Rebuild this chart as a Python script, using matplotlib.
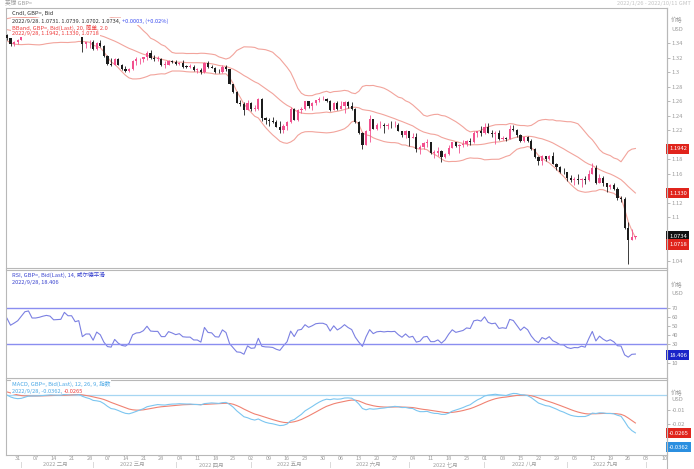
import matplotlib
matplotlib.use("Agg")
import matplotlib.pyplot as plt
import matplotlib.transforms as mtransforms
from matplotlib.lines import Line2D
import numpy as np
import pandas as pd

plt.rcParams['font.family'] = ['Noto Sans CJK SC', 'DejaVu Sans']

# GBP= daily bid, every weekday from 2022-01-03 to 2022-09-28
closes = [
    # Jan
    1.3483, 1.3530, 1.3543, 1.3540, 1.3590, 1.3592, 1.3641, 1.3711, 1.3715, 1.3676,
    1.3665, 1.3612, 1.3620, 1.3605, 1.3550, 1.3478, 1.3506, 1.3465, 1.3390, 1.3416, 1.3446,
    # Feb
    1.3510, 1.3586, 1.3600, 1.3530, 1.3530, 1.3540, 1.3555, 1.3566, 1.3560, 1.3530,
    1.3533, 1.3535, 1.3615, 1.3590, 1.3590, 1.3545, 1.3555, 1.3385, 1.3410, 1.3410,
    # Mar
    1.3320, 1.3400, 1.3360, 1.3225, 1.3115, 1.3100, 1.3185, 1.3095, 1.3035, 1.3015,
    1.3045, 1.3150, 1.3175, 1.3180, 1.3205, 1.3265, 1.3190, 1.3185, 1.3185, 1.3100,
    1.3100, 1.3155, 1.3135,
    # Apr
    1.3110, 1.3120, 1.3075, 1.3070, 1.3070, 1.3030, 1.3030, 1.3000, 1.3130, 1.3065,
    1.3060, 1.3005, 1.3000, 1.3070, 1.3035, 1.2835, 1.2720, 1.2575, 1.2560, 1.2475, 1.2575,
    # May
    1.2490, 1.2495, 1.2625, 1.2360, 1.2335, 1.2330, 1.2315, 1.2245, 1.2200, 1.2260,
    1.2315, 1.2490, 1.2345, 1.2475, 1.2490, 1.2595, 1.2535, 1.2570, 1.2615, 1.2625,
    1.2625, 1.2600,
    # Jun
    1.2480, 1.2575, 1.2490, 1.2530, 1.2590, 1.2535, 1.2495, 1.2315, 1.2160, 1.1995,
    1.2180, 1.2350, 1.2220, 1.2265, 1.2275, 1.2260, 1.2270, 1.2265, 1.2270, 1.2190,
    1.2125, 1.2180,
    # Jul
    1.2095, 1.2110, 1.1945, 1.1960, 1.2025, 1.2035, 1.1890, 1.1890, 1.1915, 1.1825,
    1.1870, 1.1955, 1.2030, 1.1975, 1.1990, 1.2005, 1.2045, 1.2035, 1.2165, 1.2180, 1.2165,
    # Aug
    1.2245, 1.2165, 1.2145, 1.2155, 1.2075, 1.2085, 1.2075, 1.2215, 1.2200, 1.2130,
    1.2050, 1.2100, 1.2055, 1.1935, 1.1830, 1.1770, 1.1840, 1.1800, 1.1835, 1.1735,
    1.1690, 1.1625, 1.1620,
    # Sep
    1.1540, 1.1510, 1.1520, 1.1515, 1.1530, 1.1505, 1.1590, 1.1680, 1.1475, 1.1545,
    1.1470, 1.1415, 1.1435, 1.1380, 1.1265, 1.1255, 1.0855, 1.0685, 1.0730, 1.0734,
]
highs = [
    1.3533, 1.3555, 1.3600, 1.3580, 1.3600, 1.3610, 1.3650, 1.3720, 1.3750, 1.3730,
    1.3700, 1.3670, 1.3645, 1.3650, 1.3610, 1.3560, 1.3520, 1.3530, 1.3470, 1.3430, 1.3450,
    1.3530, 1.3590, 1.3640, 1.3620, 1.3560, 1.3570, 1.3580, 1.3640, 1.3590, 1.3570,
    1.3550, 1.3580, 1.3640, 1.3620, 1.3620, 1.3620, 1.3600, 1.3560, 1.3420, 1.3440,
    1.3440, 1.3410, 1.3440, 1.3370, 1.3240, 1.3190, 1.3200, 1.3190, 1.3110, 1.3080,
    1.3060, 1.3160, 1.3210, 1.3190, 1.3210, 1.3290, 1.3300, 1.3230, 1.3220, 1.3190,
    1.3150, 1.3170, 1.3170,
    1.3160, 1.3140, 1.3160, 1.3100, 1.3110, 1.3090, 1.3050, 1.3060, 1.3140, 1.3150,
    1.3090, 1.3070, 1.3040, 1.3090, 1.3090, 1.3040, 1.2840, 1.2740, 1.2610, 1.2590, 1.2610,
    1.2580, 1.2540, 1.2640, 1.2640, 1.2380, 1.2360, 1.2380, 1.2340, 1.2320, 1.2280,
    1.2330, 1.2520, 1.2500, 1.2490, 1.2520, 1.2600, 1.2600, 1.2580, 1.2620, 1.2660,
    1.2670, 1.2640,
    1.2610, 1.2580, 1.2600, 1.2600, 1.2600, 1.2600, 1.2590, 1.2500, 1.2330, 1.2170,
    1.2200, 1.2410, 1.2350, 1.2290, 1.2320, 1.2290, 1.2290, 1.2320, 1.2330, 1.2300,
    1.2190, 1.2200,
    1.2180, 1.2160, 1.2160, 1.1990, 1.2040, 1.2070, 1.2000, 1.1920, 1.1970, 1.1920,
    1.1890, 1.1990, 1.2040, 1.2040, 1.2010, 1.2060, 1.2060, 1.2090, 1.2180, 1.2190, 1.2250,
    1.2290, 1.2290, 1.2200, 1.2180, 1.2200, 1.2120, 1.2110, 1.2275, 1.2270, 1.2210,
    1.2140, 1.2110, 1.2120, 1.2080, 1.1950, 1.1840, 1.1850, 1.1840, 1.1860, 1.1900,
    1.1740, 1.1700, 1.1680,
    1.1620, 1.1580, 1.1550, 1.1590, 1.1540, 1.1560, 1.1650, 1.1740, 1.1720, 1.1590,
    1.1560, 1.1450, 1.1450, 1.1470, 1.1420, 1.1290, 1.1270, 1.0930, 1.0840, 1.0739,
]
lows = [
    1.3460, 1.3440, 1.3520, 1.3490, 1.3520, 1.3530, 1.3570, 1.3630, 1.3690, 1.3660,
    1.3640, 1.3590, 1.3580, 1.3590, 1.3540, 1.3440, 1.3450, 1.3440, 1.3360, 1.3360, 1.3390,
    1.3440, 1.3500, 1.3560, 1.3500, 1.3490, 1.3500, 1.3530, 1.3520, 1.3520, 1.3500,
    1.3490, 1.3510, 1.3550, 1.3580, 1.3560, 1.3530, 1.3530, 1.3275, 1.3330, 1.3330,
    1.3300, 1.3300, 1.3340, 1.3210, 1.3090, 1.3080, 1.3100, 1.3090, 1.3030, 1.3000,
    1.3000, 1.3030, 1.3090, 1.3110, 1.3140, 1.3160, 1.3180, 1.3150, 1.3150, 1.3080,
    1.3050, 1.3090, 1.3120,
    1.3090, 1.3090, 1.3060, 1.3050, 1.3050, 1.3010, 1.2990, 1.2975, 1.2990, 1.3060,
    1.3050, 1.2990, 1.2980, 1.2990, 1.3010, 1.2830, 1.2710, 1.2570, 1.2530, 1.2410, 1.2470,
    1.2460, 1.2460, 1.2480, 1.2330, 1.2280, 1.2260, 1.2300, 1.2240, 1.2160, 1.2160,
    1.2200, 1.2300, 1.2340, 1.2330, 1.2440, 1.2480, 1.2500, 1.2480, 1.2540, 1.2590,
    1.2610, 1.2580,
    1.2460, 1.2470, 1.2480, 1.2490, 1.2430, 1.2510, 1.2480, 1.2300, 1.2150, 1.1935,
    1.1990, 1.2040, 1.2210, 1.2200, 1.2230, 1.2160, 1.2220, 1.2230, 1.2240, 1.2180,
    1.2110, 1.2090,
    1.1975, 1.2090, 1.1900, 1.1875, 1.1940, 1.1970, 1.1870, 1.1810, 1.1840, 1.1760,
    1.1810, 1.1850, 1.1950, 1.1960, 1.1890, 1.1960, 1.1980, 1.2000, 1.2020, 1.2100, 1.2120,
    1.2150, 1.2160, 1.2110, 1.2005, 1.2060, 1.2060, 1.2050, 1.2070, 1.2190, 1.2110,
    1.2030, 1.2030, 1.2040, 1.1930, 1.1820, 1.1720, 1.1720, 1.1770, 1.1780, 1.1730,
    1.1650, 1.1610, 1.1600,
    1.1500, 1.1490, 1.1440, 1.1460, 1.1410, 1.1460, 1.1500, 1.1590, 1.1460, 1.1470,
    1.1430, 1.1350, 1.1380, 1.1370, 1.1240, 1.1210, 1.0840, 1.0350, 1.0680, 1.0702,
]
last_open = 1.0731
first_open = 1.3530

month_names = ['一月', '二月', '三月', '四月', '五月', '六月', '七月', '八月', '九月', '十月']

# right-axis ticks that are not hidden behind the value tags
price_ticks = [1.04, 1.1, 1.12, 1.16, 1.18, 1.22, 1.24, 1.26, 1.28, 1.3, 1.32, 1.34]
rsi_ticks = [10, 30, 40, 50, 60, 70]
macd_ticks = [-0.01, -0.02]

# header / legend strings and the right-side value tags
price_info = "2022/9/28, 1.0731, 1.0739, 1.0702, 1.0734, "
price_change = "+0.0003, (+0.02%)"
bb_info = "2022/9/28, 1.1942, 1.1330, 1.0718"
rsi_info = "2022/9/28, 18.406"
macd_info = "2022/9/28, -0.0362, "
signal_info = "-0.0265"

UP = '#f2508e'
DOWN = '#1c1c1c'
BAND = '#f2a49c'
RSI_C = '#7b80e2'
MACD_C = '#7cc6f0'
SIG_C = '#f08272'
GRAY = '#9c9c9c'
FRAME = '#b8b8b8'

dates = pd.bdate_range('2022-01-03', '2022-09-28')
assert len(dates) == len(closes) == len(highs) == len(lows)
axis_days = pd.bdate_range('2022-01-03', '2022-10-11')
x = np.arange(len(closes))
start = list(axis_days).index(pd.Timestamp('2022-01-26'))

c = pd.Series(closes)
o = c.shift(1)
o.iloc[0] = first_open
o.iloc[-1] = last_open
o = o.values
cv = c.values
hi = np.maximum(np.array(highs), np.maximum(o, cv))
lo = np.minimum(np.array(lows), np.minimum(o, cv))

# Bollinger 20, 2.0
mid = c.rolling(20, min_periods=1).mean()
sd = c.rolling(20, min_periods=1).std(ddof=0)
upper, lower = mid + 2 * sd, mid - 2 * sd

# RSI 14, Wilder
d = c.diff()
gain = d.clip(lower=0).ewm(alpha=1 / 14, adjust=False).mean()
loss = (-d.clip(upper=0)).ewm(alpha=1 / 14, adjust=False).mean()
rsi = 100 - 100 / (1 + gain / loss)

# MACD 12, 26, 9
macd = c.ewm(span=12, adjust=False).mean() - c.ewm(span=26, adjust=False).mean()
signal = macd.ewm(span=9, adjust=False).mean()

W, H = 694, 469
fig = plt.figure(figsize=(W / 100, H / 100), dpi=100)


def box(l, t, r, b):
    return [l / W, 1 - b / H, (r - l) / W, (b - t) / H]


def px(xp, yp):
    return xp / W, 1 - yp / H


ax_p = fig.add_axes(box(5.5, 8, 667, 268))
ax_r = fig.add_axes(box(5.5, 269.5, 667, 378), sharex=ax_p)
ax_m = fig.add_axes(box(5.5, 379.5, 667, 455), sharex=ax_p)

for ax in (ax_p, ax_r, ax_m):
    for s in ax.spines.values():
        s.set_color(FRAME)
        s.set_linewidth(0.8)
    ax.yaxis.tick_right()
    ax.tick_params(axis='y', labelsize=4.2, colors=GRAY, length=2, width=0.5, pad=1.5)
ax_p.tick_params(axis='x', length=0, labelbottom=False)
ax_r.tick_params(axis='x', length=0, labelbottom=False)

# price panel
ax_p.plot(x, upper, color=BAND, lw=0.8, zorder=1)
ax_p.plot(x, mid, color=BAND, lw=0.8, zorder=1)
ax_p.plot(x, lower, color=BAND, lw=0.8, zorder=1)
up = cv >= o
cols = np.where(up, UP, DOWN)
ax_p.vlines(x, lo, hi, colors=cols, lw=0.6, zorder=2)
body = np.maximum(np.abs(cv - o), 0.0007)
ax_p.bar(x, body, bottom=np.minimum(o, cv), width=0.62, color=cols, linewidth=0, zorder=3)
ax_p.set_xlim(start - 0.4, start + 183.8)
ax_p.set_ylim(1.0297, 1.3883)
ax_p.set_yticks(price_ticks)
ax_p.yaxis.set_major_formatter(matplotlib.ticker.FormatStrFormatter('%g'))

# RSI panel
ax_r.plot(x, rsi, color=RSI_C, lw=0.8)
ax_r.axhline(70, color='#8a8ef0', lw=1.0)
ax_r.axhline(30, color='#8a8ef0', lw=1.0)
ax_r.set_ylim(-6.6, 111.7)
ax_r.set_yticks(rsi_ticks)

# MACD panel
ax_m.axhline(0, color='#a6d6f2', lw=0.9)
ax_m.plot(x, signal, color=SIG_C, lw=0.8)
ax_m.plot(x, macd, color=MACD_C, lw=0.8)
ax_m.set_ylim(-0.0417, 0.0111)
ax_m.set_yticks(macd_ticks)
ax_m.yaxis.set_major_formatter(matplotlib.ticker.FormatStrFormatter('%g'))

# date axis: Mondays, month names
mondays = [i for i, dd in enumerate(axis_days) if dd.weekday() == 0 and dd >= pd.Timestamp('2022-01-31')]
ax_m.set_xticks(mondays)
ax_m.set_xticklabels([axis_days[i].strftime('%d') for i in mondays])
ax_m.tick_params(axis='x', labelsize=4.0, colors=GRAY, length=0, pad=1)
xt = ax_m.get_xaxis_transform()
for m in range(2, 11):
    idx = [i for i, dd in enumerate(axis_days) if dd.month == m]
    ax_m.annotate('|', xy=(idx[0], 0), xycoords=xt, xytext=(0, -9.5), textcoords='offset pixels',
                  ha='center', va='center', fontsize=4.0, color=GRAY, annotation_clip=False)
    if m <= 9:
        ax_m.annotate(f'2022 {month_names[m - 1]}', xy=((idx[0] + idx[-1]) / 2, 0), xycoords=xt,
                      xytext=(0, -9.5), textcoords='offset pixels', ha='center', va='center',
                      fontsize=4.0, color=GRAY, annotation_clip=False)

# unit captions on right axes
for ax, y1, y2 in ((ax_p, 0.954, 0.919), (ax_r, 0.857, 0.783), (ax_m, 0.82, 0.73)):
    ax.text(1.006, y1, '价格', transform=ax.transAxes, fontsize=4.2, color=GRAY, va='center')
    ax.text(1.006, y2, 'USD', transform=ax.transAxes, fontsize=4.2, color=GRAY, va='center')


def tag(ax, yv, label, fc):
    tr = mtransforms.blended_transform_factory(ax.transAxes, ax.transData)
    ax.text(1.003, yv, label, transform=tr, fontsize=4.2, color='white', ha='left', va='center',
            zorder=10, clip_on=False,
            bbox=dict(boxstyle='square,pad=0.45', facecolor=fc, edgecolor='none'))


tag(ax_p, 1.1942, '1.1942', '#e0241c')
tag(ax_p, 1.1330, '1.1330', '#e0241c')
tag(ax_p, 1.0734, '1.0734', '#111111')
tag(ax_p, 1.0620, '1.0718', '#e0241c')
tag(ax_r, 18.406, '18.406', '#1a24c8')
tag(ax_m, -0.0265, '-0.0265', '#e0241c')
tag(ax_m, -0.0362, '-0.0362', '#2b8fe0')

# legends
wb = dict(facecolor='white', edgecolor='none', pad=0.6)
fs = 4.1

fig.text(*px(5, 3), '英镑 GBP=', fontsize=fs, color=GRAY, va='center')
fig.text(*px(691, 3), '2022/1/26 - 2022/10/11 GMT', fontsize=fs, color='#c4c4c4', va='center', ha='right')

fig.text(*px(12, 14), 'Cndl, GBP=, Bid', color='#333333', fontsize=fs, va='center', zorder=20, bbox=wb)
t2 = fig.text(*px(12, 21), price_info, color='#333333', fontsize=fs, va='center', zorder=20, bbox=wb)
fig.text(*px(12, 27.5), 'BBand, GBP=, Bid(Last), 20, 简单, 2.0', color='#ee3c3c', fontsize=fs, va='center', zorder=20, bbox=wb)
fig.text(*px(12, 34), bb_info, color='#ee3c3c', fontsize=fs, va='center', zorder=20, bbox=wb)

fig.text(*px(12, 275), 'RSI, GBP=, Bid(Last), 14, 威尔德平滑', color='#3a44d0', fontsize=fs, va='center', zorder=20)
fig.text(*px(12, 282), rsi_info, color='#3a44d0', fontsize=fs, va='center', zorder=20)

fig.text(*px(12, 384), 'MACD, GBP=, Bid(Last), 12, 26, 9, 指数', color='#4aa8e6', fontsize=fs, va='center', zorder=20, bbox=wb)
t6 = fig.text(*px(12, 391), macd_info, color='#4aa8e6', fontsize=fs, va='center', zorder=20, bbox=wb)

# second-colour pieces continue right after their lines
fig.canvas.draw()
bb2 = t2.get_window_extent()
fig.text(bb2.x1 / W, 1 - 21 / H, price_change, color='#3a4cf0', fontsize=fs, va='center', zorder=20, bbox=wb)
bb6 = t6.get_window_extent()
fig.text(bb6.x1 / W, 1 - 391 / H, signal_info, color='#ee3c3c', fontsize=fs, va='center', zorder=20, bbox=wb)

fig.add_artist(Line2D([667 / W, 667 / W], [0, 1 - 8 / H], color=FRAME, lw=0.8))

fig.savefig('out.png', dpi=100)
